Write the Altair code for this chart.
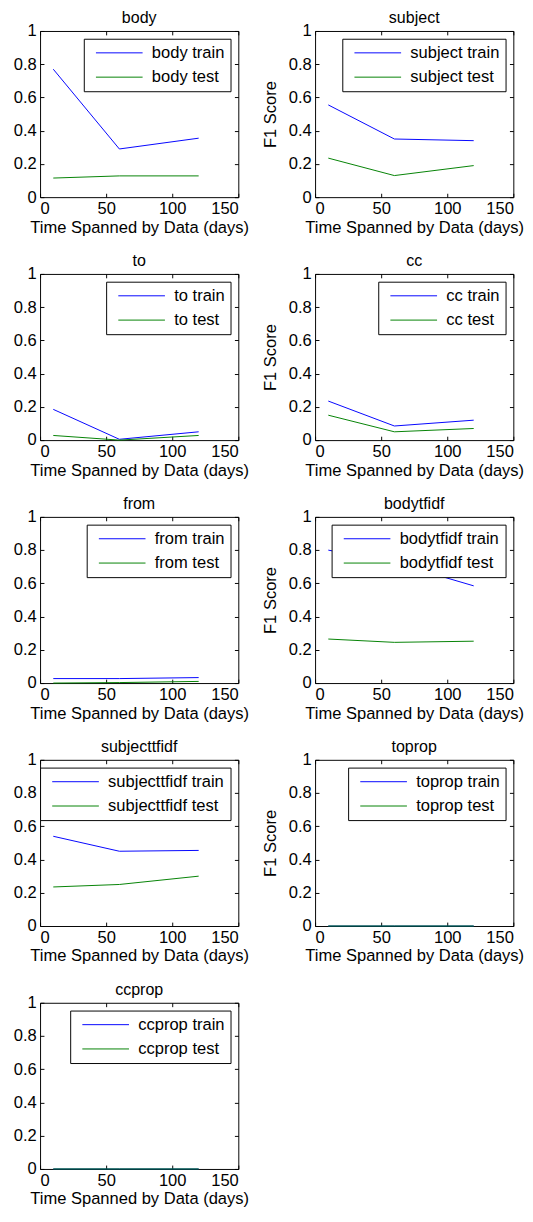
import altair as alt
import pandas as pd

days = [10, 60, 120]

names = ["body", "subject", "to", "cc", "from", "bodytfidf", "subjecttfidf", "toprop", "ccprop"]

body_train = [0.77, 0.29, 0.355]
body_test = [0.115, 0.128, 0.128]
subject_train = [0.555, 0.35, 0.34]
subject_test = [0.235, 0.13, 0.19]
to_train = [0.185, 0.005, 0.05]
to_test = [0.028, 0.0, 0.028]
cc_train = [0.235, 0.085, 0.12]
cc_test = [0.15, 0.05, 0.07]
from_train = [0.027, 0.027, 0.033]
from_test = [0.0, 0.003, 0.01]
bodytfidf_train = [0.80, 0.725, 0.585]
bodytfidf_test = [0.265, 0.245, 0.252]
subjecttfidf_train = [0.54, 0.45, 0.455]
subjecttfidf_test = [0.235, 0.25, 0.30]
toprop_train = [0.0, 0.0, 0.0]
toprop_test = [0.0, 0.0, 0.0]
ccprop_train = [0.0, 0.0, 0.0]
ccprop_test = [0.0, 0.0, 0.0]

series = {
    "body": (body_train, body_test),
    "subject": (subject_train, subject_test),
    "to": (to_train, to_test),
    "cc": (cc_train, cc_test),
    "from": (from_train, from_test),
    "bodytfidf": (bodytfidf_train, bodytfidf_test),
    "subjecttfidf": (subjecttfidf_train, subjecttfidf_test),
    "toprop": (toprop_train, toprop_test),
    "ccprop": (ccprop_train, ccprop_test),
}

x_ticks = [0, 50, 100, 150]
y_ticks = [0, 0.2, 0.4, 0.6, 0.8, 1]

FONT = "Liberation Sans"
FS = 17
W, H = 204, 171
TL = 4


def panel(name, show_ytitle):
    tr, te = series[name]
    rows = []
    for d, v in zip(days, tr):
        rows.append({"days": d, "score": v, "series": f"{name} train", "o": 0})
    for d, v in zip(days, te):
        rows.append({"days": d, "score": v, "series": f"{name} test", "o": 1})
    df = pd.DataFrame(rows)
    dom = [f"{name} train", f"{name} test"]
    return (
        alt.Chart(df, title=alt.Title(name))
        .mark_line(strokeWidth=1)
        .encode(
            x=alt.X(
                "days:Q",
                scale=alt.Scale(domain=[0, 150], nice=False),
                axis=alt.Axis(
                    values=x_ticks,
                    title="Time Spanned by Data (days)",
                    grid=True,
                    gridDash=[TL, H - 2 * TL, TL, 400],
                    gridColor="black",
                    gridOpacity=1,
                    ticks=False,
                    tickSize=0,
                    domain=False,
                    labelPadding=4,
                    titlePadding=3,
                ),
            ),
            y=alt.Y(
                "score:Q",
                scale=alt.Scale(domain=[0, 1], nice=False),
                axis=alt.Axis(
                    values=y_ticks,
                    format="~g",
                    title="F1 Score" if show_ytitle else None,
                    grid=True,
                    gridDash=[TL, W - 2 * TL, TL, 400],
                    gridColor="black",
                    gridOpacity=1,
                    ticks=False,
                    tickSize=0,
                    domain=False,
                    labelPadding=4,
                    titlePadding=9,
                ),
            ),
            color=alt.Color(
                "series:N",
                scale=alt.Scale(domain=dom, range=["#0000ff", "#008000"]),
                sort=dom,
                legend=alt.Legend(
                    title=None,
                    orient="top-right",
                    offset=8,
                    strokeColor="black",
                    fillColor="white",
                    padding=6,
                    symbolType="stroke",
                    symbolSize=2304,
                    symbolStrokeWidth=1,
                    clipHeight=17,
                    symbolOffset=6,
                    labelOffset=9,
                    rowPadding=7,
                    labelFontSize=FS,
                    labelFont=FONT,
                    labelColor="black",
                ),
            ),
            order="o:Q",
        )
        .properties(width=W, height=H)
    )


rows = []
for i in range(0, len(names), 2):
    pair = names[i:i + 2]
    ps = [panel(pair[0], False)]
    if len(pair) > 1:
        ps.append(panel(pair[1], True))
    rows.append(alt.hconcat(*ps, spacing=11).resolve_scale(color="independent"))

chart = (
    alt.vconcat(*rows, spacing=17)
    .resolve_scale(color="independent")
    .properties(padding={"left": 4, "top": -16, "right": 0, "bottom": 0})
    .configure_view(stroke="black", strokeWidth=1)
    .configure_axis(
        labelFont=FONT,
        titleFont=FONT,
        labelFontSize=FS,
        titleFontSize=FS,
        labelColor="black",
        titleColor="black",
        titleFontWeight="normal",
    )
    .configure_title(font=FONT, fontSize=16.5, fontWeight="normal", color="black", offset=-4)
)

chart.save("out.html", embed_options={"renderer": "svg", "actions": False})
